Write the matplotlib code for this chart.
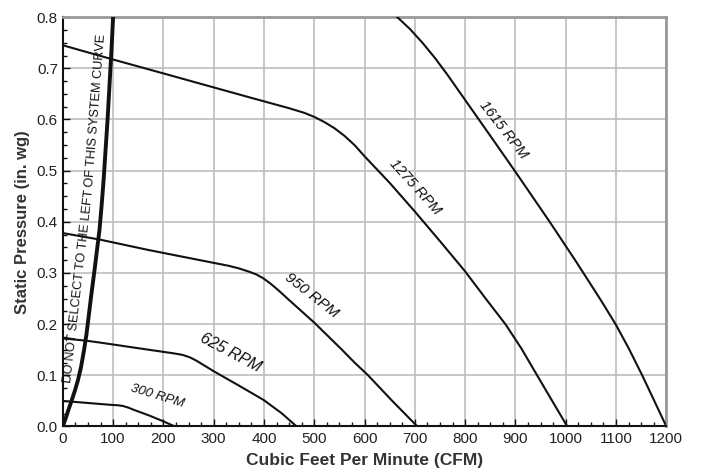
import numpy as np
import matplotlib
matplotlib.use("Agg")
import matplotlib.pyplot as plt
from matplotlib.ticker import MultipleLocator
from matplotlib.font_manager import FontProperties

plt.rcParams["font.family"] = ["Liberation Sans", "DejaVu Sans"]

# fan curves (CFM, in. wg)
cfm_300 = [0, 74, 100, 110, 120, 130, 140, 173, 200, 223]
sp_300 = [0.05, 0.044, 0.042, 0.0415, 0.040, 0.037, 0.033, 0.021, 0.010, 0.0]

cfm_625 = [0, 44, 74, 150, 220, 238, 253, 265, 280, 300, 350, 399, 435, 465]
sp_625 = [0.172, 0.168, 0.164, 0.153, 0.143, 0.140, 0.135, 0.129, 0.120, 0.108, 0.080,
          0.052, 0.026, 0.0]

cfm_950 = [0, 75, 170, 273, 330, 350, 372, 385, 398, 412, 430, 450, 475, 501, 528, 555,
           580, 607, 655, 705]
sp_950 = [0.378, 0.365, 0.345, 0.325, 0.314, 0.309, 0.302, 0.297, 0.290, 0.280, 0.265,
          0.247, 0.225, 0.202, 0.176, 0.150, 0.125, 0.100, 0.050, 0.0]

cfm_1275 = [0, 97, 200, 372, 450, 480, 500, 520, 540, 560, 580, 600, 625, 650, 700, 750,
            800, 843, 880, 912, 943, 973, 1003]
sp_1275 = [0.745, 0.718, 0.690, 0.643, 0.622, 0.613, 0.605, 0.595, 0.583, 0.568, 0.550,
           0.528, 0.502, 0.476, 0.420, 0.362, 0.303, 0.247, 0.200, 0.152, 0.100, 0.050, 0.0]

cfm_1615 = [665, 690, 715, 740, 765, 790, 815, 850, 899, 968, 1020, 1069, 1099, 1125, 1152,
            1176, 1200]
sp_1615 = [0.800, 0.777, 0.750, 0.720, 0.687, 0.652, 0.617, 0.568, 0.499, 0.400, 0.323,
           0.248, 0.200, 0.153, 0.100, 0.050, 0.0]

cfm_sys = [0, 6, 12, 18, 24, 30, 36, 42, 47, 52, 57, 63, 68, 73, 77, 81, 85, 89, 93, 97, 100]
sp_sys = [0.0, 0.017, 0.035, 0.052, 0.070, 0.090, 0.115, 0.148, 0.180, 0.220, 0.260, 0.305,
          0.345, 0.385, 0.430, 0.480, 0.540, 0.600, 0.670, 0.740, 0.800]

curves = [(cfm_300, sp_300), (cfm_625, sp_625), (cfm_950, sp_950),
          (cfm_1275, sp_1275), (cfm_1615, sp_1615)]

# label text, position, angle, size
rpm_labels = ["300 RPM", "625 RPM", "950 RPM", "1275 RPM", "1615 RPM"]
label_x = [185, 327, 485, 690, 865]
label_y = [0.048, 0.132, 0.246, 0.459, 0.572]
label_rot = [-17, -28, -38, -48, -52]
label_size = [9.5, 11.5, 11, 10.5, 10.5]

note_parts = ["DO NOT SELCECT TO THE LEFT ", "OF THIS SYSTEM CURVE"]
note_rot = [83.5, 85.5]
note_size = 9.2

fig = plt.figure(figsize=(7.01, 4.76), dpi=100)
ax = fig.add_axes([0.0896, 0.104, 0.861, 0.860])

for x, y in curves:
    ax.plot(x, y, color="#111111", lw=1.5, solid_joinstyle="round", zorder=3)
ax.plot(cfm_sys, sp_sys, color="#111111", lw=2.8, solid_joinstyle="round", zorder=4)

for s, x, y, r, fs in zip(rpm_labels, label_x, label_y, label_rot, label_size):
    ax.text(x, y, s, rotation=r, rotation_mode="anchor", ha="center", va="bottom",
            fontsize=fs, style="italic", color="#111111", zorder=5)

ax.set_xlim(0, 1200)
ax.set_ylim(0, 0.8)

# system curve note, in two pieces so it bends with the curve
renderer = fig.canvas.get_renderer()
prop = FontProperties(family=["Liberation Sans", "DejaVu Sans"], size=note_size)
start = ax.transData.transform((16, 0.085))
for part, rot in zip(note_parts, note_rot):
    pos = ax.transData.inverted().transform(start)
    ax.text(pos[0], pos[1], part, rotation=rot, rotation_mode="anchor", ha="left",
            va="baseline", fontproperties=prop, color="#111111", zorder=5)
    w = renderer.get_text_width_height_descent(part, prop, ismath=False)[0]
    a = np.radians(rot)
    start = start + w * np.array([np.cos(a), np.sin(a)])

ax.set_xticks(np.arange(0, 1201, 100))
ax.set_yticks(np.arange(0, 0.81, 0.1))
ax.set_yticklabels(["%.1f" % v for v in np.arange(0, 0.81, 0.1)])
ax.xaxis.set_minor_locator(MultipleLocator(25))
ax.yaxis.set_minor_locator(MultipleLocator(0.025))
ax.grid(True, which="major", color="#bdbdbd", lw=1.2, zorder=0)
ax.set_axisbelow(True)

ax.tick_params(which="both", direction="in", colors="#111111", labelcolor="#222222",
               labelsize=11, width=1)
ax.tick_params(which="major", length=5)
ax.tick_params(which="minor", length=3)
ax.tick_params(axis="x", pad=4)

for side in ["left", "bottom"]:
    ax.spines[side].set_color("#111111")
    ax.spines[side].set_linewidth(1.5)
for side in ["top", "right"]:
    ax.spines[side].set_color("#999999")
    ax.spines[side].set_linewidth(2)

ax.set_xlabel("Cubic Feet Per Minute (CFM)", fontsize=12.5, fontweight="bold",
              color="#333333", labelpad=5)
ax.set_ylabel("Static Pressure (in. wg)", fontsize=12, fontweight="bold",
              color="#333333", labelpad=5)

fig.savefig("out.png", dpi=100)
